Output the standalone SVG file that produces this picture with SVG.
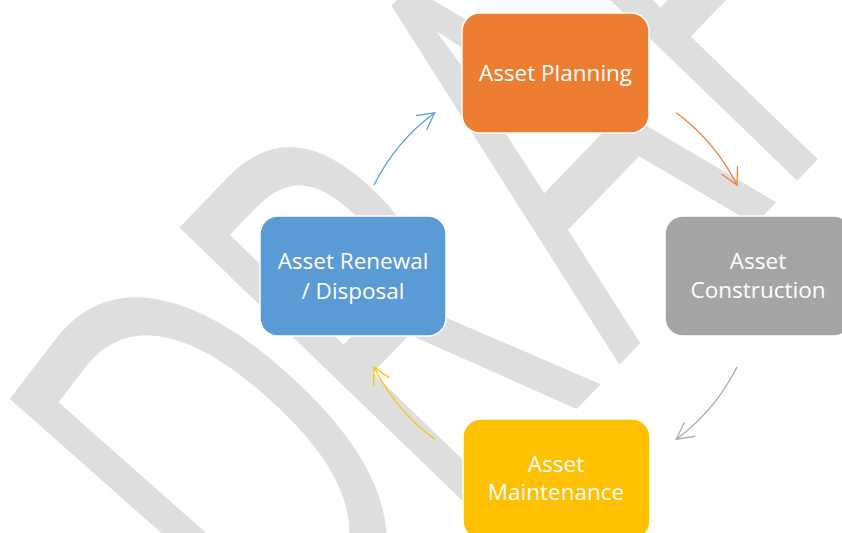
<svg xmlns="http://www.w3.org/2000/svg" width="842" height="533" viewBox="0 0 842 533">
<style>
.box{stroke:#ffffff;stroke-width:1.5}
.lbl{font-family:"Open Sans","Noto Sans",sans-serif;font-size:22.5px;fill:#ffffff;text-anchor:middle}
.conn{fill:none;stroke-width:1.2}
.wm{font-family:"Open Sans","Noto Sans",sans-serif;font-size:577px;fill:#dedede}
</style>
<defs>
<marker id="mB" markerUnits="userSpaceOnUse" markerWidth="40" markerHeight="40" refX="0" refY="0" viewBox="-20 -20 40 40" orient="auto" overflow="visible"><path d="M-16.8,-8.9 L0,0 L-16.8,8.9" fill="none" stroke="#5B9BD5" stroke-width="1.2"/></marker>
<marker id="mO" markerUnits="userSpaceOnUse" markerWidth="40" markerHeight="40" refX="0" refY="0" viewBox="-20 -20 40 40" orient="auto" overflow="visible"><path d="M-16.8,-8.9 L0,0 L-16.8,8.9" fill="none" stroke="#ED7D31" stroke-width="1.2"/></marker>
<marker id="mG" markerUnits="userSpaceOnUse" markerWidth="40" markerHeight="40" refX="0" refY="0" viewBox="-20 -20 40 40" orient="auto" overflow="visible"><path d="M-16.8,-8.9 L0,0 L-16.8,8.9" fill="none" stroke="#A5A5A5" stroke-width="1.2"/></marker>
<marker id="mY" markerUnits="userSpaceOnUse" markerWidth="40" markerHeight="40" refX="0" refY="0" viewBox="-20 -20 40 40" orient="auto" overflow="visible"><path d="M-16.8,-8.9 L0,0 L-16.8,8.9" fill="none" stroke="#FFC000" stroke-width="1.2"/></marker>
</defs>
<rect width="842" height="533" fill="#ffffff"/>
<g id="watermark" transform="translate(625 359) rotate(-46) scale(0.62 1)">
<text class="wm" x="-763 -403 -13 343.5 654" y="0" rotate="-4 0 0 0 0">DRAFT</text>
</g>
<g id="connectors">
<path class="conn" stroke="#5B9BD5" marker-end="url(#mB)" d="M374,185.1 A203,203 0 0 1 434.7,112.8"/>
<path class="conn" stroke="#ED7D31" marker-end="url(#mO)" d="M676.3,112.8 A203,203 0 0 1 737,185.1"/>
<path class="conn" stroke="#A5A5A5" marker-end="url(#mG)" d="M737,366.9 A203,203 0 0 1 676.3,439.2"/>
<path class="conn" stroke="#FFC000" marker-end="url(#mY)" d="M434.7,439.2 A203,203 0 0 1 374,366.9"/>
</g>
<g id="planning">
<rect class="box" x="462" y="13" width="187" height="120" rx="18" fill="#ED7D31"/>
<text class="lbl" x="555.5" y="81">Asset Planning</text>
</g>
<g id="construction">
<rect class="box" x="665" y="216" width="187" height="120" rx="18" fill="#A5A5A5"/>
<text class="lbl" x="758" y="268.5">Asset</text>
<text class="lbl" x="758" y="298">Construction</text>
</g>
<g id="maintenance">
<rect class="box" x="463" y="419" width="187" height="120" rx="18" fill="#FFC000"/>
<text class="lbl" x="556" y="471.5">Asset</text>
<text class="lbl" x="556" y="500">Maintenance</text>
</g>
<g id="renewal">
<rect class="box" x="260" y="216" width="186" height="120" rx="18" fill="#5B9BD5"/>
<text class="lbl" x="353" y="268.5">Asset Renewal</text>
<text class="lbl" x="353" y="298.5">/ Disposal</text>
</g>
</svg>
